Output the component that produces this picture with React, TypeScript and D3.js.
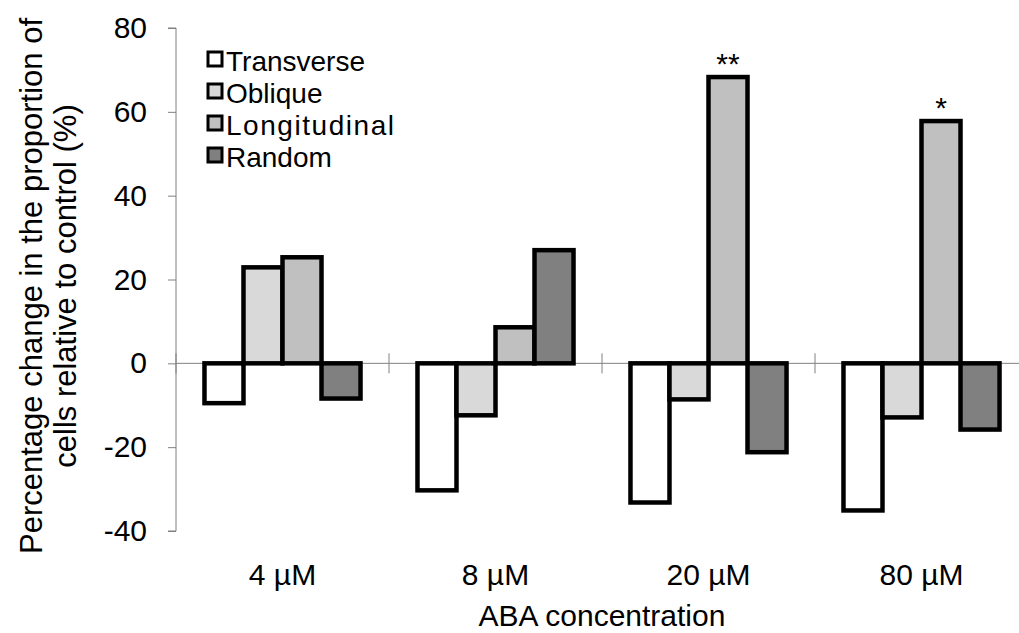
import React, { useRef, useEffect } from 'react';
import * as d3 from 'd3';

const categories = ['4 µM', '8 µM', '20 µM', '80 µM'];
const seriesNames = ['Transverse', 'Oblique', 'Longitudinal', 'Random'];
const transverse = [-9.5, -30.3, -33.2, -35.1];
const oblique = [22.9, -12.4, -8.6, -12.9];
const longitudinal = [25.3, 8.6, 68.3, 57.8];
const random = [-8.4, 27, -21.2, -15.8];
const significance = ['', '', '**', '*'];
const yTicks = [-40, -20, 0, 20, 40, 60, 80];

const fills = ['#ffffff', '#d9d9d9', '#c0c0c0', '#808080'];
const font = 'Arial, "Liberation Sans", sans-serif';

const App = () => {
  const svgRef = useRef<SVGSVGElement>(null);
  const width = 1019;
  const height = 633;

  useEffect(() => {
    const values = [transverse, oblique, longitudinal, random];
    const svg = d3.select(svgRef.current);
    svg.selectAll('*').remove();

    const x0 = d3.scaleBand().domain(categories).range([176, 1028]).padding(0);
    const x1 = d3
      .scaleBand()
      .domain(seriesNames)
      .range([0, x0.bandwidth()])
      .paddingInner(0)
      .paddingOuter(0.73);
    const y = d3.scaleLinear().domain([-40, 80]).range([531, 28]);

    // y axis
    const yAxis = d3.axisLeft(y).tickValues(yTicks).tickSize(8).tickFormat((d) => String(d));
    const yg = svg.append('g').attr('transform', `translate(${x0.range()[0]},0)`).call(yAxis);
    yg.select('.domain').attr('stroke', '#808080').attr('d', `M-8,${y(80)}H0V${y(-40)}H-8`);
    yg.selectAll('.tick line').attr('stroke', '#808080');
    yg.selectAll('.tick text')
      .attr('x', -29)
      .attr('font-family', font)
      .attr('font-size', 30)
      .attr('fill', '#000');

    // zero line
    svg
      .append('line')
      .attr('x1', x0.range()[0])
      .attr('x2', width)
      .attr('y1', y(0))
      .attr('y2', y(0))
      .attr('stroke', '#808080')
      .attr('stroke-width', 1);

    // category boundary ticks crossing the zero line
    svg
      .selectAll('.xtick')
      .data(categories)
      .join('line')
      .attr('class', 'xtick')
      .attr('x1', (d) => x0(d)!)
      .attr('x2', (d) => x0(d)!)
      .attr('y1', y(0) - 10)
      .attr('y2', y(0) + 10)
      .attr('stroke', '#808080');

    // bars
    seriesNames.forEach((s, si) => {
      svg
        .selectAll(`.bar${si}`)
        .data(categories)
        .join('rect')
        .attr('class', `bar${si}`)
        .attr('x', (d) => x0(d)! + x1(s)!)
        .attr('y', (d, i) => y(Math.max(0, values[si][i])))
        .attr('width', x1.bandwidth())
        .attr('height', (d, i) => Math.abs(y(values[si][i]) - y(0)))
        .attr('fill', fills[si])
        .attr('stroke', '#000')
        .attr('stroke-width', 4.5);
    });

    // significance stars
    svg
      .selectAll('.star')
      .data(categories)
      .join('text')
      .attr('class', 'star')
      .attr('x', (d) => x0(d)! + x1('Longitudinal')! + x1.bandwidth() / 2)
      .attr('y', (d, i) => y(longitudinal[i]) - 3)
      .attr('text-anchor', 'middle')
      .attr('font-family', font)
      .attr('font-size', 30)
      .text((d, i) => significance[i]);

    // category labels
    svg
      .selectAll('.cat')
      .data(categories)
      .join('text')
      .attr('class', 'cat')
      .attr('x', (d) => x0(d)! + x0.bandwidth() / 2)
      .attr('y', 585)
      .attr('text-anchor', 'middle')
      .attr('font-family', font)
      .attr('font-size', 30)
      .text((d) => d);

    svg
      .append('text')
      .attr('x', (x0.range()[0] + x0.range()[1]) / 2)
      .attr('y', 626)
      .attr('text-anchor', 'middle')
      .attr('font-family', font)
      .attr('font-size', 30)
      .text('ABA concentration');

    // y title
    const titleLines = ['Percentage change in the proportion of', 'cells relative to control (%)'];
    svg
      .selectAll('.ytitle')
      .data(titleLines)
      .join('text')
      .attr('class', 'ytitle')
      .attr('transform', (d, i) => `translate(${42 + i * 34},286) rotate(-90)`)
      .attr('text-anchor', 'middle')
      .attr('font-family', font)
      .attr('font-size', 31)
      .text((d) => d);

    // legend
    const legend = svg
      .selectAll('.legend')
      .data(seriesNames)
      .join('g')
      .attr('class', 'legend')
      .attr('transform', (d, i) => `translate(208,${71 + i * 32})`);
    legend
      .append('rect')
      .attr('x', 0)
      .attr('y', -19)
      .attr('width', 14)
      .attr('height', 14)
      .attr('fill', (d, i) => fills[i])
      .attr('stroke', '#000')
      .attr('stroke-width', 3);
    legend
      .append('text')
      .attr('x', 18)
      .attr('y', 0)
      .attr('font-family', font)
      .attr('font-size', 28)
      .attr('textLength', (d) => (d === 'Longitudinal' ? 168 : null))
      .text((d) => d);
  }, []);

  return (
    <div style={{ position: 'absolute', left: 0, top: 0 }}>
      <svg ref={svgRef} width={width} height={height} style={{ display: 'block', background: '#fff' }}></svg>
    </div>
  );
};

export default App;
